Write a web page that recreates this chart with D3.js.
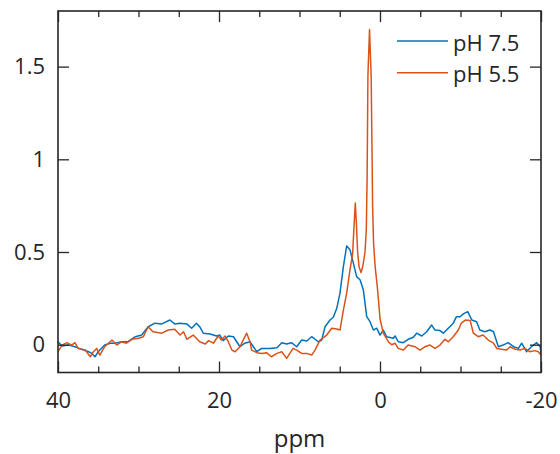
<!DOCTYPE html>
<html>
<head>
<meta charset="utf-8">
<script src="https://cdn.jsdelivr.net/npm/d3@7"></script>
<style>
  body { margin: 0; background: #fff; }
  svg { display: block; font-family: "Open Sans", sans-serif; }
  .axis path, .axis line { stroke: #262626; }
  .axis text { fill: #262626; font-size: 22px; }
</style>
</head>
<body>
<svg id="chart"></svg>
<script>
// pH 7.5 spectrum (ppm, intensity)
const ph75Ppm = [40, 39.5, 38.7, 37.9, 37.06, 36.2, 35.8, 35.4, 35, 34.2, 33.5, 32.9, 32.1, 31.3, 30.4, 29.6,
  28.8, 27.95, 27.1, 26.1, 25.5, 24.84, 24, 23.4, 22.8, 22.4, 21.95, 21.1, 20.3, 19.9, 19.47, 18.85, 18.2,
  17.8, 17.4, 16.8, 16.15, 15.74, 15.3, 14.7, 13.66, 12.8, 12.2, 11.6, 11, 10.35, 9.73, 9.1, 8.49, 7.66,
  7.24, 6.83, 6.21, 5.8, 5.38, 4.97, 4.55, 4.14, 3.73, 3.31, 2.9, 2.48, 2.07, 1.65, 1.24, 0.82, 0.41, 0,
  -0.41, -0.83, -1.66, -1.86, -2.27, -2.9, -3.5, -4.14, -4.56, -5.18, -5.8, -6.42, -6.83, -7.45, -7.86,
  -8.48, -9.1, -9.5, -9.94, -10.35, -10.9, -11.4, -12, -12.4, -13, -13.66, -14.1, -14.7, -15.3, -15.9,
  -16.6, -17.2, -17.6, -18.2, -18.8, -19.46, -19.9, -20];
const ph75Val = [0.016, -0.007, -0.002, -0.011, -0.025, -0.038, -0.047, -0.065, -0.038, -0.002, 0.008, 0.008,
  0.016, 0.016, 0.043, 0.052, 0.097, 0.116, 0.112, 0.133, 0.112, 0.116, 0.112, 0.089, 0.116, 0.097, 0.062,
  0.058, 0.047, 0.052, 0.022, 0.047, 0.043, 0.016, -0.011, 0.008, 0.016, -0.011, -0.038, -0.02, -0.02,
  -0.016, 0.011, 0.004, 0.011, -0.011, 0.025, 0.02, 0.043, 0.016, 0.025, 0.097, 0.133, 0.148, 0.195, 0.278,
  0.421, 0.533, 0.512, 0.44, 0.367, 0.35, 0.296, 0.151, 0.124, 0.079, 0.089, 0.052, 0.079, 0.043, 0.035,
  0.047, 0.016, 0.011, 0.029, 0.04, 0.062, 0.047, 0.07, 0.106, 0.079, 0.076, 0.062, 0.089, 0.116, 0.151,
  0.151, 0.166, 0.178, 0.133, 0.124, 0.079, 0.07, 0.079, 0.07, -0.011, -0.002, 0.011, -0.011, -0.02, 0.008,
  -0.038, -0.011, 0.011, -0.011, -0.047];

// pH 5.5 spectrum (ppm, intensity)
const ph55Ppm = [40, 39.5, 38.9, 38.3, 37.9, 37.5, 36.6, 36, 35.6, 35.2, 34.8, 34.2, 33.3, 32.7, 32.1, 31.5,
  30.8, 30, 29.4, 28.8, 28.2, 27.1, 26.3, 25.5, 24.84, 24.4, 24, 23.2, 22.4, 21.7, 21.3, 20.7, 20.1, 19.7,
  19.25, 18.85, 18.4, 18, 17.4, 17, 16.56, 16.15, 15.95, 15.3, 14.7, 14.1, 13.5, 12.8, 12.2, 11.6, 11.2,
  10.8, 10.35, 9.73, 9.1, 8.49, 8.07, 7.45, 6.62, 6, 5.38, 4.97, 4.55, 4.14, 3.73, 3.4, 3.19, 3.07, 2.95,
  2.78, 2.6, 2.36, 2.15, 2, 1.86, 1.7, 1.6, 1.5, 1.3, 1.1, 0.98, 0.92, 0.8, 0.6, 0.33, 0.15, 0,
  -0.41, -1.04, -1.45, -1.86, -2.27, -2.9, -3.5, -4.35, -4.97, -5.6, -6.2, -6.83, -7.45, -8.07, -8.48,
  -9.1, -9.73, -10.1, -10.6, -11.2, -11.6, -12.2, -12.8, -13.45, -14.1, -14.5, -15.1, -15.74, -16.15,
  -16.8, -17.4, -18, -18.6, -19.25, -19.66, -20];
const ph55Val = [-0.038, -0.002, 0.011, -0.002, 0.011, -0.02, -0.029, -0.065, -0.038, -0.02, -0.056, -0.011,
  0.025, -0.002, 0.016, 0.008, 0.029, 0.035, 0.043, 0.097, 0.07, 0.062, 0.079, 0.083, 0.052, 0.07, 0.029,
  0.052, 0.016, 0.004, 0.022, 0.008, 0.047, 0.025, 0.047, 0.016, -0.029, -0.038, -0.011, 0.025, 0.062,
  0.016, -0.029, -0.043, -0.047, -0.043, -0.065, -0.047, -0.038, -0.074, -0.047, -0.02, -0.029, -0.047,
  -0.047, -0.056, -0.029, 0.025, 0.052, 0.089, 0.085, 0.079, 0.187, 0.278, 0.404, 0.49, 0.67, 0.764, 0.67,
  0.5, 0.42, 0.389, 0.42, 0.46, 0.5, 0.62, 0.9, 1.45, 1.7, 1.45, 1.0, 0.75, 0.55, 0.42, 0.31, 0.22,
  0.14, 0.062, 0.016, 0, 0.008, -0.02, -0.029, -0.002, -0.011, -0.029, -0.011, -0.002, -0.02, -0.002, 0.029,
  0.016, 0.043, 0.079, 0.116, 0.133, 0.13, 0.062, 0.043, 0.052, 0.025, 0.008, -0.02, -0.025, -0.029,
  -0.011, -0.025, -0.029, -0.02, -0.038, -0.032, -0.038, -0.056];

const seriesNames = ['pH 7.5', 'pH 5.5'];
const seriesColors = ['#0072BD', '#D95319'];
const xMajorTicks = [40, 20, 0, -20];
const xMinorTicks = [35, 30, 25, 15, 10, 5, -5, -10, -15];
const yTicks = [0, 0.5, 1, 1.5];

const W = 560, H = 454;
const margin = {top: 11, right: 19, bottom: 81.5, left: 58};
const width = W - margin.left - margin.right;
const height = H - margin.top - margin.bottom;

const svg = d3.select('#chart').attr('width', W).attr('height', H);
const chart = svg.append('g').attr('transform', `translate(${margin.left},${margin.top})`);

const x = d3.scaleLinear().domain([40, -20]).range([0, width]);
const y = d3.scaleLinear().domain([-0.15, 1.8]).range([height, 0]);

chart.append('clipPath').attr('id', 'clip')
  .append('rect').attr('width', width).attr('height', height);

// data lines
const series = [
  ph75Ppm.map((p, i) => [p, ph75Val[i]]),
  ph55Ppm.map((p, i) => [p, ph55Val[i]])
];
const line = d3.line().x(d => x(d[0])).y(d => y(d[1]));
chart.append('g').attr('clip-path', 'url(#clip)')
  .selectAll('path').data(series).join('path')
    .attr('d', line)
    .attr('fill', 'none')
    .attr('stroke', (d, i) => seriesColors[i])
    .attr('stroke-width', 1.5)
    .attr('stroke-linejoin', 'round');

// axes: ticks point inward
function styleAxis(g) {
  g.attr('class', 'axis').select('.domain').remove();
  g.selectAll('line').attr('stroke-width', 1.3);
}
chart.append('g').attr('transform', `translate(0,${height})`)
  .call(d3.axisBottom(x).tickValues(xMajorTicks).tickSize(-11).tickPadding(20).tickFormat(d => String(d)))
  .call(styleAxis);
chart.append('g').attr('transform', `translate(0,${height})`)
  .call(d3.axisBottom(x).tickValues(xMinorTicks).tickSize(-6).tickFormat(''))
  .call(styleAxis);
chart.append('g')
  .call(d3.axisTop(x).tickValues(xMajorTicks).tickSize(-11).tickFormat(''))
  .call(styleAxis);
chart.append('g')
  .call(d3.axisTop(x).tickValues(xMinorTicks).tickSize(-6).tickFormat(''))
  .call(styleAxis);
chart.append('g')
  .call(d3.axisLeft(y).tickValues(yTicks).tickSize(-11).tickPadding(13).tickFormat(d => String(d)))
  .call(styleAxis);
chart.append('g').attr('transform', `translate(${width},0)`)
  .call(d3.axisRight(y).tickValues(yTicks).tickSize(-11).tickFormat(''))
  .call(styleAxis);

chart.selectAll('.axis text').attr('font-family', '"Open Sans", sans-serif').attr('font-size', 22);

// frame
chart.append('rect')
  .attr('width', width).attr('height', height)
  .attr('fill', 'none').attr('stroke', '#262626').attr('stroke-width', 1.6);

// x axis title
chart.append('text')
  .attr('x', width / 2).attr('y', height + 74.5)
  .attr('text-anchor', 'middle')
  .attr('font-size', 24).attr('fill', '#262626')
  .text('ppm');

// legend
const legend = svg.append('g').attr('transform', 'translate(397,41)');
seriesNames.forEach((name, i) => {
  const row = legend.append('g').attr('transform', `translate(0,${i * 31.7})`);
  row.append('line').attr('x1', 0).attr('x2', 51)
    .attr('stroke', seriesColors[i]).attr('stroke-width', 1.5);
  row.append('text').attr('x', 56).attr('y', 9.5)
    .attr('font-size', 22).attr('fill', '#262626')
    .text(name);
});
</script>
</body>
</html>
